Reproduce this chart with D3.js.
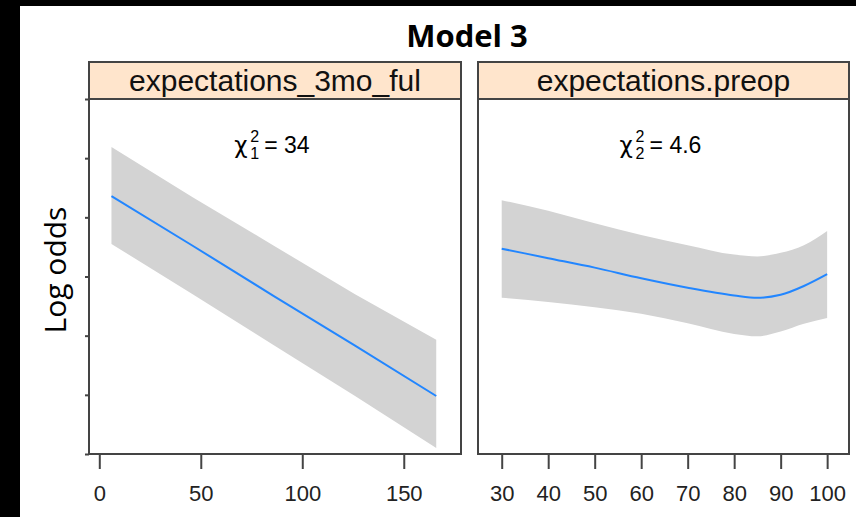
<!DOCTYPE html>
<html>
<head>
<meta charset="utf-8">
<script src="https://cdn.jsdelivr.net/npm/d3@7"></script>
<style>
  html, body { margin: 0; padding: 0; background: #000; }
  svg { display: block; }
</style>
</head>
<body>
<div id="chart"></div>
<script>
// panel titles and chi-square notes
const panels = ["expectations_3mo_ful", "expectations.preop"];
const chiDf = ["1", "2"];
const chiVal = ["34", "4.6"];

// left panel: expectations_3mo_ful
const leftX = [6, 46, 86, 126, 166];
const leftFit = [1.36, 0.52, -0.33, -1.17, -2.02];
const leftUpper = [2.19, 1.34, 0.52, -0.30, -1.07];
const leftLower = [0.55, -0.30, -1.16, -2.02, -2.90];

// right panel: expectations.preop
const rightX = [30, 40, 50, 60, 70, 80, 85, 90, 95, 100];
const rightFit = [0.47, 0.31, 0.15, -0.03, -0.19, -0.32, -0.36, -0.31, -0.16, 0.04];
const rightUpper = [1.29, 1.11, 0.90, 0.70, 0.53, 0.37, 0.34, 0.40, 0.53, 0.77];
const rightLower = [-0.36, -0.43, -0.52, -0.63, -0.79, -0.97, -1.01, -0.93, -0.80, -0.70];

const leftTicks = [0, 50, 100, 150];
const rightTicks = [30, 40, 50, 60, 70, 80, 90, 100];
const yTicks = [-3, -2, -1, 0, 1, 2, 3];

const width = 856, height = 517;
const panelTop = 99, panelBottom = 454;
const stripTop = 62;
const border = "#444";
const sans = "Liberation Sans, Arial, sans-serif";

const svg = d3.select("#chart").append("svg")
  .attr("width", width)
  .attr("height", height);

svg.append("rect").attr("width", width).attr("height", height).attr("fill", "#000");
svg.append("rect").attr("x", 20).attr("y", 6)
  .attr("width", width - 20).attr("height", height - 6).attr("fill", "#fff");

let y = d3.scaleLinear().domain([-3, 3]).range([panelBottom, panelTop]);

let panelDefs = [
  { left: 89, right: 461, domain: [-5.07, 178.2], xs: leftX, fit: leftFit, up: leftUpper, lo: leftLower,
    ticks: leftTicks, curve: d3.curveLinear },
  { left: 478, right: 849, domain: [24.9, 104.7], xs: rightX, fit: rightFit, up: rightUpper, lo: rightLower,
    ticks: rightTicks, curve: d3.curveMonotoneX }
];

panelDefs.forEach((p, i) => {
  let x = d3.scaleLinear().domain(p.domain).range([p.left, p.right]);
  let g = svg.append("g");

  let rows = p.xs.map((v, j) => ({ x: v, fit: p.fit[j], up: p.up[j], lo: p.lo[j] }));

  // confidence band
  let area = d3.area()
    .x(d => x(d.x))
    .y0(d => y(d.lo))
    .y1(d => y(d.up))
    .curve(p.curve);
  g.append("path")
    .datum(rows)
    .attr("d", area)
    .attr("fill", "#d3d3d3");

  // fitted line
  let line = d3.line()
    .x(d => x(d.x))
    .y(d => y(d.fit))
    .curve(p.curve);
  g.append("path")
    .datum(rows)
    .attr("d", line)
    .attr("fill", "none")
    .attr("stroke", "#2286ff")
    .attr("stroke-width", 2);

  // panel box
  g.append("rect")
    .attr("x", p.left).attr("y", panelTop)
    .attr("width", p.right - p.left).attr("height", panelBottom - panelTop)
    .attr("fill", "none")
    .attr("stroke", border)
    .attr("stroke-width", 2);

  // strip
  g.append("rect")
    .attr("x", p.left).attr("y", stripTop)
    .attr("width", p.right - p.left).attr("height", panelTop - stripTop)
    .attr("fill", "#ffe5cc")
    .attr("stroke", border)
    .attr("stroke-width", 2);
  g.append("text")
    .attr("x", (p.left + p.right) / 2)
    .attr("y", panelTop - 8)
    .attr("text-anchor", "middle")
    .attr("font-family", sans)
    .attr("font-size", 30)
    .attr("fill", "#111")
    .text(panels[i]);

  // chi-square note
  let note = g.append("g");
  note.append("text").attr("x", 0).attr("y", 0)
    .attr("font-family", "DejaVu Sans, sans-serif")
    .attr("font-size", 23).text("χ");
  note.append("text").attr("x", 16).attr("y", -11)
    .attr("font-family", sans)
    .attr("font-size", 16).text("2");
  note.append("text").attr("x", 16).attr("y", 6)
    .attr("font-family", sans)
    .attr("font-size", 16).text(chiDf[i]);
  note.append("text").attr("x", 30).attr("y", 0)
    .attr("font-family", sans)
    .attr("font-size", 23).text("= " + chiVal[i]);
  let bb = note.node().getBBox();
  note.attr("transform", "translate(" + ((p.left + p.right) / 2 - bb.width / 2 - 3) + ",153)");

  // x axis
  let ax = g.append("g")
    .attr("transform", "translate(0," + panelBottom + ")")
    .call(d3.axisBottom(x).tickValues(p.ticks).tickSize(15).tickPadding(16).tickSizeOuter(0));
  ax.select(".domain").remove();
  ax.selectAll(".tick line").attr("stroke", border).attr("stroke-width", 2);
  ax.selectAll(".tick text")
    .attr("font-family", sans)
    .attr("font-size", 22)
    .attr("fill", "#222");

  if (i === 0) {
    let ay = g.append("g")
      .attr("transform", "translate(" + p.left + ",0)")
      .call(d3.axisLeft(y).tickValues(yTicks).tickSize(4).tickFormat("").tickSizeOuter(0));
    ay.select(".domain").remove();
    ay.selectAll(".tick line").attr("stroke", border).attr("stroke-width", 2);
  }
});

// title and y label
svg.append("text")
  .attr("x", 467).attr("y", 47)
  .attr("text-anchor", "middle")
  .attr("font-family", "Open Sans, sans-serif")
  .attr("font-weight", "bold")
  .attr("font-size", 31)
  .attr("fill", "#000")
  .text("Model 3");

svg.append("text")
  .attr("transform", "translate(66,270) rotate(-90)")
  .attr("text-anchor", "middle")
  .attr("font-family", "Open Sans, sans-serif")
  .attr("font-size", 30)
  .attr("fill", "#000")
  .text("Log odds");
</script>
</body>
</html>
